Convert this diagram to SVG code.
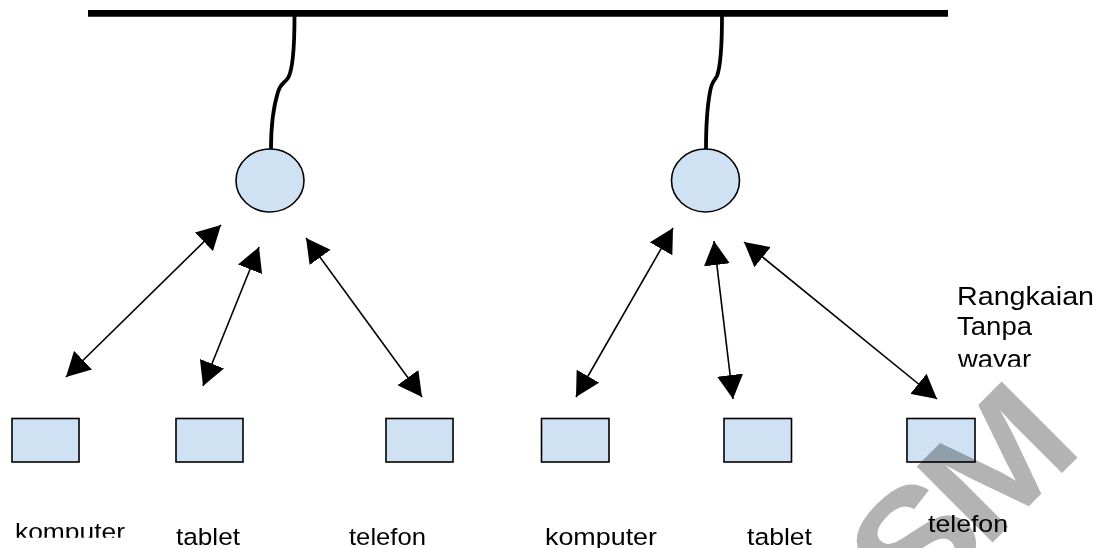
<svg xmlns="http://www.w3.org/2000/svg" width="1101" height="548" viewBox="0 0 1101 548">
<style>
.node{fill:#cfe2f3;stroke:#000;stroke-width:1.6}
.wire{fill:none;stroke:#000;stroke-width:3.8;stroke-linecap:round}
.arrow{fill:none;stroke:#000;stroke-width:1.6;marker-start:url(#head);marker-end:url(#head)}
.lbl{font-family:"Liberation Sans",Arial,sans-serif;font-size:24.5px;fill:#000}
.note{font-family:"Liberation Sans",Arial,sans-serif;font-size:26px;fill:#000}
.wm{font-family:"Liberation Sans",Arial,sans-serif;font-size:156px;font-weight:bold;letter-spacing:-12px;fill:#b3b3b3;mix-blend-mode:multiply}
</style>
<defs>
<marker id="head" viewBox="0 0 24 26" markerWidth="24" markerHeight="26" refX="24" refY="13" orient="auto-start-reverse" markerUnits="userSpaceOnUse">
<path d="M0,0 L24,13 L0,26 Z" fill="#000"/>
</marker>
<clipPath id="clipK"><rect x="0" y="480" width="200" height="57.7"/></clipPath>
<clipPath id="clipW"><rect x="940" y="340" width="161" height="26.7"/></clipPath>
</defs>
<rect width="1101" height="548" fill="#fff"/>
<g id="backbone">
<line x1="88" y1="13.4" x2="948" y2="13.4" stroke="#000" stroke-width="6.8"/>
</g>
<g id="connectors">
<path class="wire" d="M294.5,16 C294.5,40 294,68 288,78 C284,84 281,82 278,92 C273,108 271,125 271,149"/>
<path class="wire" d="M722,16 C722,40 721,65 717,76 C714,82 712,80 710,92 C707,108 706,125 706,149"/>
<line class="arrow" x1="66" y1="377" x2="221" y2="225"/>
<line class="arrow" x1="203" y1="386" x2="259" y2="247"/>
<line class="arrow" x1="422" y1="397" x2="306" y2="238"/>
<line class="arrow" x1="576" y1="397" x2="673" y2="228"/>
<line class="arrow" x1="733" y1="399" x2="714" y2="241"/>
<line class="arrow" x1="937" y1="399" x2="744" y2="242"/>
</g>
<g id="ap1"><ellipse class="node" cx="270" cy="180.5" rx="34" ry="31.5"/></g>
<g id="ap2"><ellipse class="node" cx="705.5" cy="180.5" rx="34" ry="31.5"/></g>
<g id="komputer1">
<rect class="node" x="12" y="418.5" width="67" height="43.5"/>
<text class="lbl" x="15" y="539.5" textLength="110" lengthAdjust="spacingAndGlyphs" clip-path="url(#clipK)">komputer</text>
</g>
<g id="tablet1">
<rect class="node" x="176" y="418.5" width="67" height="43.5"/>
<text class="lbl" x="176" y="545" textLength="64" lengthAdjust="spacingAndGlyphs">tablet</text>
</g>
<g id="telefon1">
<rect class="node" x="386" y="418.5" width="67" height="43.5"/>
<text class="lbl" x="349" y="545" textLength="77" lengthAdjust="spacingAndGlyphs">telefon</text>
</g>
<g id="komputer2">
<rect class="node" x="541.5" y="418.5" width="67.5" height="43.5"/>
<text class="lbl" x="545" y="545" textLength="112" lengthAdjust="spacingAndGlyphs">komputer</text>
</g>
<g id="tablet2">
<rect class="node" x="724" y="418.5" width="67.5" height="43.5"/>
<text class="lbl" x="747" y="545" textLength="65" lengthAdjust="spacingAndGlyphs">tablet</text>
</g>
<g id="telefon2">
<rect class="node" x="907" y="418.5" width="68" height="43.5"/>
<text class="lbl" x="928" y="531.5" textLength="80" lengthAdjust="spacingAndGlyphs">telefon</text>
</g>
<g id="note">
<text class="note" x="957" y="305" textLength="137" lengthAdjust="spacingAndGlyphs">Rangkaian</text>
<text class="note" x="957" y="335" textLength="75" lengthAdjust="spacingAndGlyphs">Tanpa</text>
<text class="note" x="958" y="367.5" textLength="73" lengthAdjust="spacingAndGlyphs" clip-path="url(#clipW)">wayar</text>
</g>
<g id="watermark">
<text class="wm" transform="translate(913,622) rotate(-45) scale(1.1,1)">SM</text>
</g>
</svg>
